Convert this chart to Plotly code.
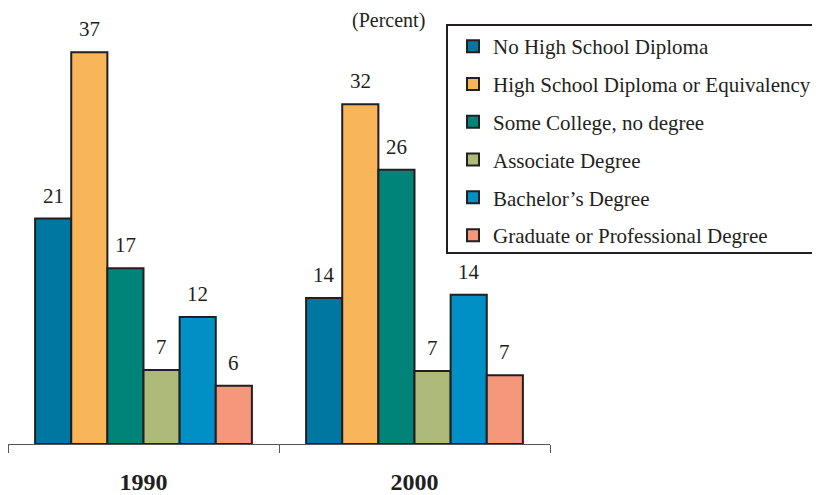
import plotly.graph_objects as go

years = ["1990", "2000"]
series = [
    "No High School Diploma",
    "High School Diploma or Equivalency",
    "Some College, no degree",
    "Associate Degree",
    "Bachelor\u2019s Degree",
    "Graduate or Professional Degree",
]
values_1990 = [21.3, 37.0, 16.6, 7.0, 12.0, 5.5]
values_2000 = [13.8, 32.1, 25.9, 6.9, 14.1, 6.5]
labels_1990 = ["21", "37", "17", "7", "12", "6"]
labels_2000 = ["14", "32", "26", "7", "14", "7"]
colors = ["#0077A0", "#F8B55A", "#00847A", "#ADBA7A", "#0090C5", "#F5977A"]

INK = "#231F20"
FONT = "Liberation Serif"
BARGAP = 0.2

W, H = 820, 495
ml, mr, mt, mb = 0, 278, 2, 59
pw, ph = W - ml - mr, H - mt - mb


def px(fx):
    return (fx - ml) / pw


def py(fy):
    return (H - mb - fy) / ph


fig = go.Figure()
for i, name in enumerate(series):
    fig.add_trace(go.Bar(
        x=years,
        y=[values_1990[i], values_2000[i]],
        name=name,
        legendgroup=name,
        marker=dict(color=colors[i], line=dict(color=INK, width=2)),
        hoverinfo="skip",
    ))

n = len(series)
bw = (1 - BARGAP) / n
annotations = []
for g, (vals, labs) in enumerate([(values_1990, labels_1990), (values_2000, labels_2000)]):
    for i in range(n):
        annotations.append(dict(
            x=g + (i - (n - 1) / 2) * bw, y=vals[i], xref="x", yref="y",
            text=labs[i], showarrow=False, yanchor="bottom", yshift=9,
            font=dict(family=FONT, size=21, color=INK),
        ))
annotations.append(dict(
    x=px(380.5), y=py(0), xref="paper", yref="paper", text="(Percent)",
    showarrow=False, xanchor="center", yanchor="top", borderpad=0,
    font=dict(family=FONT, size=20, color=INK),
))

shapes = [dict(
    type="rect", xref="paper", yref="paper",
    x0=px(439), x1=px(810), y0=py(245), y1=py(17),
    line=dict(color=INK, width=2), fillcolor="rgba(0,0,0,0)", layer="above",
)]

fig.update_layout(
    width=W, height=H,
    margin=dict(l=ml, r=mr, t=mt, b=mb),
    paper_bgcolor="white", plot_bgcolor="white",
    barmode="group", bargap=BARGAP, bargroupgap=0,
    font=dict(family=FONT, color=INK),
    showlegend=True,
    legend=dict(
        x=px(445), y=py(18), xanchor="left", yanchor="top",
        borderwidth=0, bgcolor="rgba(0,0,0,0)",
        font=dict(family=FONT, size=21, color=INK),
        tracegroupgap=7.5, traceorder="grouped",
    ),
    xaxis=dict(
        type="category", showline=True, linecolor="#555555", linewidth=1,
        ticks="outside", tickson="boundaries", ticklen=8, tickcolor="#555555",
        tickfont=dict(family=FONT, size=24, color=INK),
        ticklabelstandoff=16,
        tickprefix="<b>", ticksuffix="</b>", showgrid=False,
    ),
    yaxis=dict(range=[0, 41], visible=False, showgrid=False),
    annotations=annotations,
    shapes=shapes,
)

fig.write_html("out.html")
